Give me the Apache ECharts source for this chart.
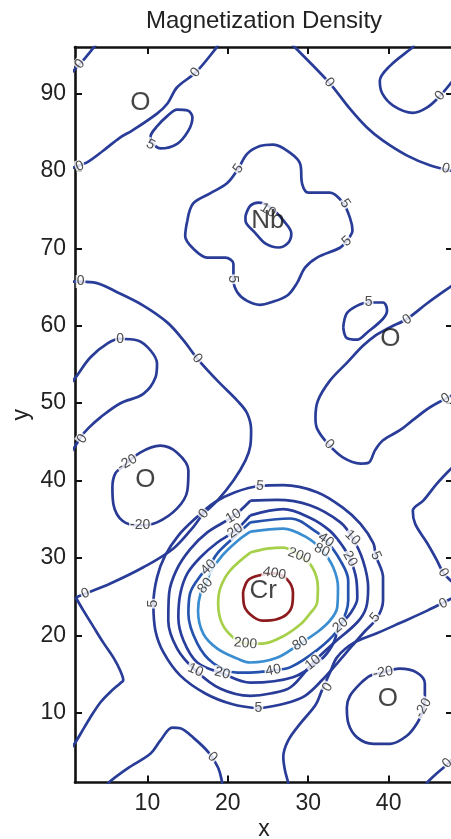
<!DOCTYPE html>
<html><head><meta charset="utf-8">
<script src="https://cdn.jsdelivr.net/npm/echarts@6/dist/echarts.min.js"></script>
<style>html,body{margin:0;padding:0;background:#fff}#c{width:451px;height:839px}</style>
</head><body><div id="c"></div>
<script>
const xTicks = [10, 20, 30, 40];
const yTicks = [10, 20, 30, 40, 50, 60, 70, 80, 90];

// contour paths, [x, y] in data units
const c0_topLeftCorner = [[0.5,92.6],[1.06,93.2],[2.2,94.5],[3.6,96.3]];
const c0_topLeft = [[18.8,96.3],[18.5,95.8],[16.0,92.7],[13.7,90.8],[12.5,88.7],[11.2,87.4],[8.1,85.2],[6.6,84.3],[4.5,82.6],[2.5,81.1],[1.0,80.5],[0.5,80.3]];
const c5_topLeft = [[10.37,83.9],[11.6,82.9],[13.7,83.5],[15.1,85.2],[15.6,86.9],[15.0,87.8],[13.7,87.9],[12.5,87.1],[11.25,85.8],[10.4,84.5],[10.37,83.9]];
const c5_nb = [[14.97,73.6],[15.7,75.8],[17.8,77.1],[19.9,78.4],[21.3,80.3],[22.4,82.2],[24.0,83.2],[25.65,83.4],[27.8,82.3],[29.0,80.9],[29.25,78.3],[30.0,77.2],[32.7,77.2],[34.3,75.9],[35.2,73.9],[35.5,72.3],[34.8,71.0],[34.0,70.1],[31.1,68.8],[29.6,67.5],[28.6,65.5],[27.4,63.9],[25.3,63.0],[24.0,62.7],[22.4,63.2],[21.2,64.3],[20.7,65.9],[20.7,68.0],[19.7,68.8],[17.45,68.8],[15.7,69.96],[14.7,71.6],[14.97,73.6]];
const c10_nb = [[22.2,74.2],[22.8,75.5],[23.8,75.9],[25.3,75.3],[26.9,73.6],[27.9,71.9],[27.5,70.7],[26.3,70.1],[24.7,70.6],[23.4,72.0],[22.2,73.6],[22.2,74.2]];
const c0_topMid = [[28.0,96.3],[28.4,95.9],[32.6,91.4],[35.2,88.0],[37.3,85.6],[39.3,83.9],[42.3,81.97],[45.2,80.7],[48.3,79.9]];
const c0_topRight = [[43.2,96.3],[42.9,95.9],[40.2,93.6],[38.9,91.6],[39.2,90.0],[40.6,88.4],[43.0,87.5],[44.8,88.2],[46.4,89.7],[48.3,92.1]];
const c0_leftLong = [[0.5,65.7],[1.06,65.7],[3.3,65.6],[6.3,64.3],[9.5,62.6],[12.5,60.4],[14.5,58.1],[16.2,55.75],[18.7,52.9],[21.2,50.3],[22.4,48.7],[22.9,46.5],[22.8,44.5],[22.2,42.6],[20.7,40.0],[18.7,37.4],[16.96,35.7],[15.7,34.0],[13.2,31.2],[9.5,28.8],[5.4,26.7],[2.3,25.4],[1.1,24.9]];
const c0_leftV = [[1.1,24.9],[2.05,23.2],[3.3,21.1],[4.5,19.1],[5.8,17.1],[6.6,15.5],[7.0,14.2],[6.6,13.8],[5.4,12.7],[4.2,11.4],[2.9,9.4],[1.7,7.3],[1.06,6.2],[0.5,5.4]];
const c0_leftLoop = [[0.5,52.6],[1.06,53.3],[2.9,55.9],[5.0,57.7],[6.6,58.3],[8.8,58.1],[10.4,56.8],[11.2,55.1],[11.0,53.3],[9.5,51.2],[6.6,49.96],[4.2,48.2],[2.7,46.8],[1.7,45.6],[1.06,44.5],[0.6,43.8]];
const c0_bottomLoop = [[5.0,0.5],[5.2,1.0],[7.5,2.8],[10.4,4.75],[11.6,6.4],[13.1,8.1],[14.1,8.0],[15.7,6.8],[17.6,4.9],[18.8,2.9],[19.3,1.0],[19.35,0.5]];
const c0_rightMid = [[48.3,65.5],[47.9,65.2],[44.8,62.9],[42.3,60.9],[40.2,59.8],[38.3,58.7],[36.8,57.4],[34.8,55.2],[32.7,52.9],[31.2,50.3],[30.9,48.1],[31.1,46.7],[32.4,44.8],[34.3,43.0],[36.5,42.2],[37.5,42.3],[38.3,43.9],[39.3,45.2],[41.4,46.5],[43.0,47.8],[45.2,49.5],[48.3,51.2]];
const c5_right = [[34.35,59.8],[34.8,61.6],[36.1,62.6],[37.5,63.0],[39.3,63.0],[39.8,62.0],[39.3,60.9],[37.3,59.1],[36.1,58.2],[34.8,58.4],[34.35,59.8]];
const c0_rightLow = [[48.3,42.1],[47.9,41.7],[46.0,39.6],[44.3,37.4],[43.0,36.1],[43.3,34.4],[44.8,31.9],[46.0,29.7],[46.8,28.1],[48.3,26.5]];
const c0_rightBottom = [[48.3,25.0],[47.9,24.8],[44.8,23.2],[41.4,21.6],[38.6,20.3],[35.6,19.0],[33.6,17.2],[32.7,15.2],[31.7,12.9],[30.9,11.0],[29.0,8.6],[27.5,6.4],[26.9,4.3],[27.1,2.6],[27.5,1.0],[27.6,0.5]];
const c0_corner = [[44.6,0.5],[44.8,1.0],[46.0,2.2],[47.3,3.35],[48.3,4.4]];
const cm20_left = [[6.9,41.7],[9.1,43.6],[11.6,44.5],[13.7,43.6],[15.1,41.3],[14.97,38.7],[13.7,36.4],[11.2,34.6],[8.9,34.2],[6.9,34.8],[5.8,36.8],[5.65,39.1],[6.0,40.9],[6.9,41.7]];
const cm20_right = [[39.3,15.2],[41.4,15.7],[43.5,15.2],[44.5,13.8],[44.5,12.2],[44.3,10.3],[43.5,8.6],[42.3,7.07],[40.2,6.0],[38.1,6.0],[36.1,6.8],[35.0,8.6],[34.8,10.7],[35.2,12.2],[36.5,13.8],[37.7,14.8],[39.3,15.2]];
const c5_cr = [[23.8,10.56],[27.1,11.2],[29.6,12.2],[31.7,14.2],[33.6,16.4],[35.5,18.7],[37.1,20.6],[38.6,22.3],[39.3,24.5],[39.3,27.5],[38.4,30.3],[38.1,31.9],[36.5,34.4],[34.3,36.5],[31.1,38.5],[26.9,39.4],[24.0,39.3],[20.9,38.5],[18.4,37.2],[15.96,35.1],[13.85,32.9],[12.2,30.3],[11.2,27.5],[10.75,24.1],[11.0,20.6],[12.0,17.8],[14.1,14.8],[17.2,12.5],[20.6,11.1],[23.8,10.56]];
const c10_cr = [[22.8,37.4],[26.1,37.5],[30.2,36.8],[34.0,34.6],[35.5,32.6],[36.8,29.7],[37.45,26.2],[37.2,23.6],[36.1,21.7],[33.1,18.95],[30.6,16.5],[27.8,13.3],[25.3,12.5],[22.8,12.2],[19.1,13.1],[15.96,15.5],[13.7,18.3],[12.6,21.9],[12.7,25.4],[13.6,28.4],[15.3,31.1],[17.45,33.3],[20.7,35.4],[22.8,37.4]];
const c20_cr = [[22.8,35.5],[26.9,36.3],[30.2,35.2],[32.7,33.5],[34.3,31.5],[35.2,29.9],[35.96,27.35],[36.1,24.8],[35.2,22.8],[33.98,21.3],[32.98,18.7],[31.5,16.8],[28.1,14.6],[22.8,13.9],[19.3,15.1],[16.2,16.5],[14.5,19.3],[13.85,22.3],[14.1,25.4],[14.97,28.0],[16.6,30.1],[18.7,32.0],[20.9,33.5],[22.8,35.5]];
const c40_cr = [[22.8,34.6],[27.8,35.1],[31.1,33.3],[32.2,32.3],[33.98,29.7],[34.97,27.1],[34.97,24.5],[34.7,23.0],[33.6,20.6],[31.1,18.1],[27.8,15.9],[25.65,15.5],[22.8,15.2],[21.2,15.2],[18.2,16.4],[16.2,18.97],[15.1,22.8],[15.3,25.4],[16.6,27.7],[17.6,28.8],[18.7,30.6],[20.7,32.6],[22.8,34.6]];
const c80_cr = [[22.8,33.4],[26.9,33.8],[29.9,32.6],[31.7,31.0],[33.1,28.8],[33.7,26.2],[33.6,23.6],[32.7,21.9],[31.1,20.4],[29.0,18.95],[26.1,17.1],[22.8,16.5],[21.2,17.0],[18.7,18.3],[16.96,20.2],[16.3,23.2],[16.6,25.4],[17.2,26.4],[17.8,28.1],[19.3,30.3],[21.2,32.2],[22.8,33.4]];
const c200_cr = [[22.8,30.7],[24.9,31.2],[26.9,31.35],[28.9,30.3],[30.5,28.8],[31.2,26.2],[31.1,24.2],[30.2,22.8],[29.0,21.4],[26.9,19.9],[24.3,18.95],[22.2,18.95],[20.7,19.7],[19.3,21.5],[18.8,24.1],[19.1,26.2],[20.3,28.4],[22.8,30.7]];
const c400_cr = [[21.9,25.6],[22.5,27.1],[23.7,27.7],[25.8,28.0],[27.4,27.2],[28.1,25.5],[28.0,23.9],[27.3,22.7],[26.0,22.05],[24.3,21.9],[22.8,22.7],[22.0,24.0],[21.9,25.6]];

// [level, path]
const contourList = [
  [0, c0_topLeftCorner],[0, c0_topLeft],[5, c5_topLeft],[5, c5_nb],[10, c10_nb],
  [0, c0_topMid],[0, c0_topRight],[0, c0_leftLong],[0, c0_leftV],[0, c0_leftLoop],
  [0, c0_bottomLoop],[0, c0_rightMid],[5, c5_right],[0, c0_rightLow],[0, c0_rightBottom],
  [0, c0_corner],[-20, cm20_left],[-20, cm20_right],
  [5, c5_cr],[10, c10_cr],[20, c20_cr],[40, c40_cr],[80, c80_cr],[200, c200_cr],[400, c400_cr]
];

// contour labels: [x, y, text, rotation]
const contourLabels = [
  [1.6,93.8,'0',50],[16.0,92.7,'0',50],[1.6,80.6,'0',20],[10.4,83.4,'5',-30],
  [21.3,80.3,'5',55],[34.6,75.8,'5',-55],[34.8,70.9,'5',40],[20.6,66.0,'5',-90],[25.0,74.9,'10',-30],
  [32.6,91.4,'0',-50],[47.1,80.3,'0',-15],[46.4,89.7,'0',50],
  [1.7,65.7,'0',0],[16.2,55.75,'0',-50],[17.0,35.7,'0',50],[2.3,25.4,'0',20],
  [6.6,58.3,'0',0],[1.9,45.4,'0',55],[7.5,42.3,'-20',30],[9.1,34.2,'-20',0],
  [42.3,60.8,'0',35],[32.6,44.7,'0',-45],[47.1,50.6,'0',30],[37.5,63.0,'5',0],
  [46.8,28.1,'0',-60],[32.4,13.3,'0',60],[46.8,24.1,'0',25],[47.3,3.5,'0',45],[18.1,4.3,'0',-45],
  [39.3,15.2,'-20',10],[44.3,10.6,'-20',60],
  [24.0,39.3,'5',-5],[38.4,30.3,'5',-65],[10.75,24.1,'5',90],[23.8,10.6,'5',0],[38.3,22.3,'5',50],
  [20.7,35.4,'10',30],[35.5,32.6,'10',-45],[30.6,16.5,'10',40],[15.96,15.5,'10',-25],
  [20.9,33.5,'20',35],[35.2,29.9,'20',-60],[34.0,21.3,'20',40],[19.3,15.1,'20',-15],
  [17.6,28.8,'40',45],[32.2,32.3,'40',-35],[25.65,15.5,'40',10],
  [17.2,26.4,'80',50],[31.7,31.0,'80',-25],[29.0,18.95,'80',30],
  [28.9,30.3,'200',-20],[22.2,18.95,'200',-5],
  [25.8,28.0,'400',-10]
];

// atom labels: [x, y, text]
const atomLabels = [[9.13,88.75,'O'],[24.97,73.6,'Nb'],[40.2,58.3,'O'],[9.75,40.1,'O'],[24.4,25.8,'Cr'],[39.9,11.85,'O']];

const levelColor = {'-20':'#283a94','0':'#283c98','5':'#283c98','10':'#283c98','20':'#283e9c','40':'#2452ad','80':'#3a8dd0','200':'#a6d04a','400':'#8c1b1f'};
const FONT = 'Liberation Sans, Arial, Helvetica, sans-serif';

const series = contourList.map(([lvl, pts]) => ({
  type: 'line', data: pts, smooth: 0.35, showSymbol: false, symbol: 'none', silent: true,
  xAxisIndex: 0, yAxisIndex: 0, z: 2,
  lineStyle: {color: levelColor[String(lvl)], width: 2.7}
}));
series.push({
  type: 'scatter', z: 5, silent: true, symbolSize: 1, itemStyle: {color: 'rgba(0,0,0,0)'},
  data: contourLabels.map(([x, y, t, r]) => ({name: t, value: [x, y], label: {rotate: r}})),
  label: {show: true, position: 'inside', formatter: '{b}', fontSize: 14, color: '#222', fontFamily: FONT,
    backgroundColor: '#fff', padding: [0, 1, -1, 1]}
});
series.push({
  type: 'scatter', z: 6, silent: true, symbolSize: 1, itemStyle: {color: 'rgba(0,0,0,0)'},
  data: atomLabels.map(([x, y, t]) => ({name: t, value: [x, y]})),
  label: {show: true, position: 'inside', formatter: '{b}', fontSize: 26, color: '#151515', fontFamily: FONT}
});

const axisLineStyle = {color: '#111', width: 2.6};
const chart = echarts.init(document.getElementById('c'), null, {renderer: 'canvas'});
chart.setOption({
  animation: false,
  backgroundColor: '#fff',
  title: {text: 'Magnetization Density', left: 259, top: 4, textAlign: 'center',
    textStyle: {fontSize: 24, fontWeight: 'normal', color: '#222', fontFamily: FONT}},
  grid: {left: 75, top: 47, width: 378, height: 735.5, containLabel: false, outerBoundsMode: 'none'},
  xAxis: [
    {type: 'value', min: 1, max: 48, position: 'bottom',
     axisLine: {show: true, onZero: false, lineStyle: axisLineStyle},
     axisTick: {show: true, inside: true, length: 7, lineStyle: {color: '#111', width: 2}, customValues: xTicks},
     axisLabel: {show: true, customValues: xTicks, fontSize: 23, color: '#222', margin: 10, fontFamily: FONT},
     splitLine: {show: false},
     name: 'x', nameLocation: 'middle', nameGap: 36, nameMoveOverlap: false,
     nameTextStyle: {fontSize: 23, color: '#222', fontFamily: FONT}},
    {type: 'value', min: 1, max: 48, position: 'top',
     axisLine: {show: true, onZero: false, lineStyle: axisLineStyle},
     axisTick: {show: true, inside: true, length: 7, lineStyle: {color: '#111', width: 2}, customValues: xTicks},
     axisLabel: {show: false}, splitLine: {show: false}}
  ],
  yAxis: [
    {type: 'value', min: 1, max: 96, position: 'left',
     axisLine: {show: true, onZero: false, lineStyle: axisLineStyle},
     axisTick: {show: true, inside: true, length: 7, lineStyle: {color: '#111', width: 2}, customValues: yTicks},
     axisLabel: {show: true, customValues: yTicks, fontSize: 23, color: '#222', margin: 9, fontFamily: FONT},
     splitLine: {show: false},
     name: 'y', nameLocation: 'middle', nameGap: 42, nameMoveOverlap: false,
     nameTextStyle: {fontSize: 23, color: '#222', fontFamily: FONT}},
    {type: 'value', min: 1, max: 96, position: 'right',
     axisLine: {show: true, onZero: false, lineStyle: axisLineStyle},
     axisTick: {show: true, inside: true, length: 7, lineStyle: {color: '#111', width: 2}, customValues: yTicks},
     axisLabel: {show: false}, splitLine: {show: false}}
  ],
  series: series
});
</script>
</body></html>
